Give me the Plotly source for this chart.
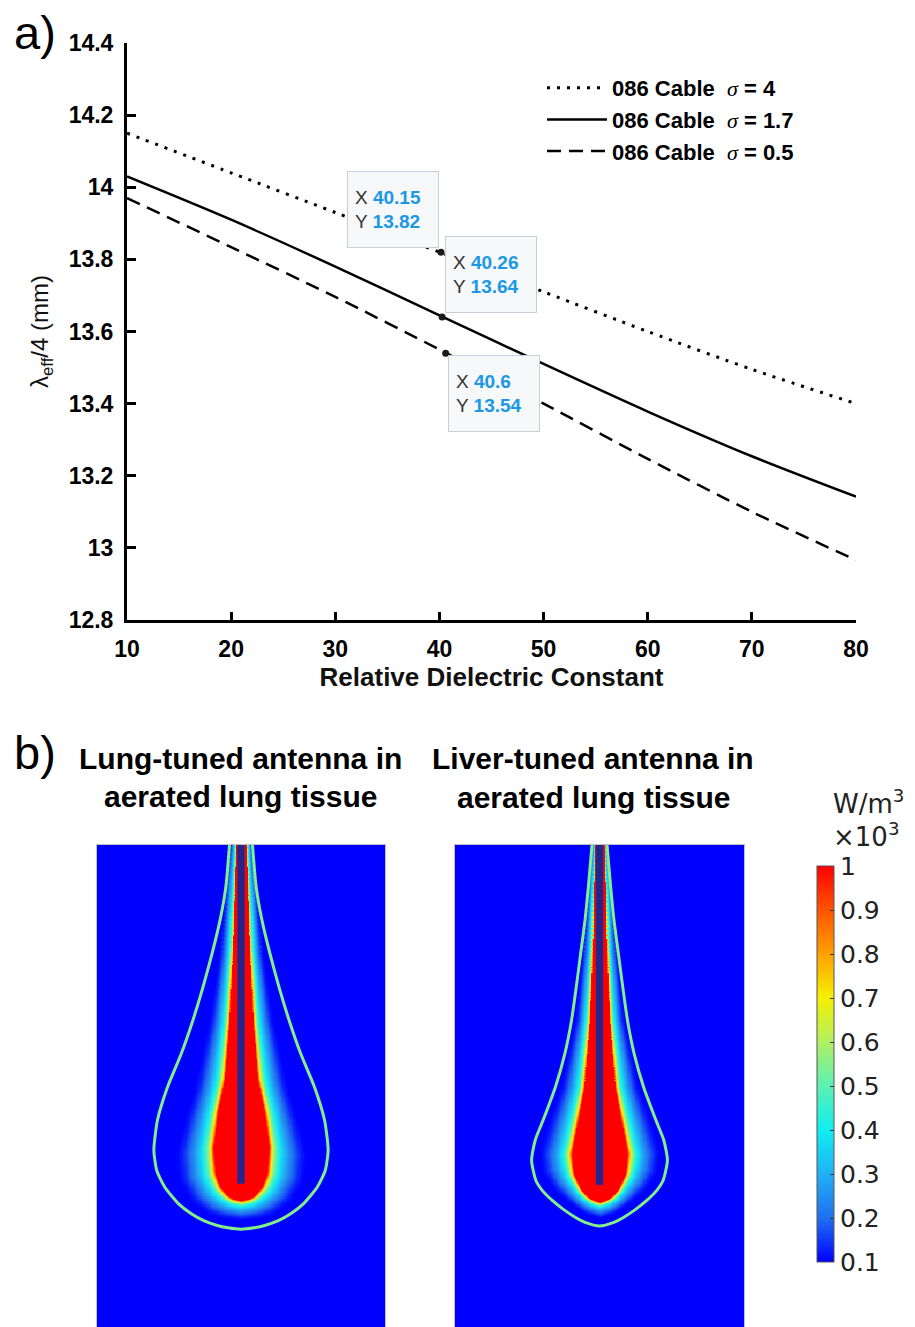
import numpy as np
import plotly.graph_objects as go

W, H = 915, 1327
SANS = "Liberation Sans, Arial, sans-serif"
CBFONT = "DejaVu Sans, Liberation Sans, sans-serif"

# ---------------- panel a) data ----------------
eps_r = [10, 20, 30, 40, 50, 60, 70, 80]
lam_sigma4 = [14.15, 14.04, 13.93, 13.82, 13.71, 13.60, 13.495, 13.40]
lam_sigma17 = [14.03, 13.91, 13.78, 13.645, 13.51, 13.378, 13.254, 13.142]
lam_sigma05 = [13.97, 13.834, 13.696, 13.55, 13.40, 13.247, 13.100, 12.966]
series_names = ["σ = 4", "σ = 1.7", "σ = 0.5"]
tip_x = [40.15, 40.26, 40.6]
tip_y = [13.82, 13.64, 13.54]
x_ticks = [10, 20, 30, 40, 50, 60, 70, 80]
y_ticks = [12.8, 13.0, 13.2, 13.4, 13.6, 13.8, 14.0, 14.2, 14.4]
y_ticktext = ["12.8", "13", "13.2", "13.4", "13.6", "13.8", "14", "14.2", "14.4"]

# ---------------- panel b) data (mm, read from the maps) ----------------
# depth below the top edge, half-width of each region
lung_contour_d = [0, 2.9, 5.2, 7.5, 9.9, 12.2, 14.5, 16.8, 19.1, 21.2, 22.6, 23.75, 24.9, 25.6, 26.1, 26.4, 26.58, 26.68]
lung_contour_h = [0.8, 1.05, 1.45, 2.0, 2.65, 3.35, 4.15, 5.1, 5.8, 6.05, 5.85, 5.3, 4.35, 3.45, 2.55, 1.7, 0.9, 0.0]
lung_red_d = [0, 7.5, 12.2, 16.3, 18.6, 21.0, 22.8, 23.75, 24.3, 24.55, 24.7]
lung_red_h = [0.35, 0.6, 0.83, 1.16, 1.64, 1.94, 1.8, 1.45, 0.98, 0.6, 0.0]
lung_glow_d = [0, 7.5, 12.2, 16.8, 19.1, 21.4, 23.3, 24.8, 25.6, 25.9, 26.05]
lung_glow_h = [0.8, 1.5, 2.2, 3.2, 3.9, 4.5, 4.3, 3.4, 2.3, 1.3, 0.0]

liver_contour_d = [0, 2.9, 5.2, 7.5, 9.8, 12.2, 14.5, 16.8, 19.1, 20.5, 21.9, 23.3, 24.0, 24.7, 25.3, 25.9, 26.2, 26.45]
liver_contour_h = [0.52, 0.77, 1.0, 1.3, 1.6, 1.94, 2.4, 3.05, 3.9, 4.45, 4.7, 4.4, 3.95, 3.25, 2.5, 1.6, 1.0, 0.0]
liver_red_d = [0, 7.5, 12.2, 16.8, 19.1, 21.4, 22.8, 23.9, 24.4, 24.65, 24.8]
liver_red_h = [0.35, 0.5, 0.7, 1.07, 1.5, 1.94, 1.8, 1.3, 0.85, 0.45, 0.0]
liver_glow_d = [0, 7.5, 12.2, 16.8, 19.1, 21.4, 22.8, 24.0, 25.0, 25.6, 25.9]
liver_glow_h = [0.55, 1.2, 1.7, 2.7, 3.5, 4.15, 3.95, 3.1, 1.9, 1.0, 0.0]

rod_half = 0.24
rod_tip = [23.5, 23.6]

# fall-off of the field from the red core (t=0) to the glow edge (t=1)
decay_t = [0, 0.05, 0.12, 0.2, 0.3, 0.45, 0.65, 0.85, 1.0]
decay_v = [1.0, 0.8, 0.62, 0.5, 0.4, 0.3, 0.2, 0.13, 0.1]

cb_vals = [0.1, 0.2, 0.3, 0.4, 0.5, 0.6, 0.7, 0.8, 0.9, 1.0]
cb_text = ["0.1", "0.2", "0.3", "0.4", "0.5", "0.6", "0.7", "0.8", "0.9", "1"]
cb_colors = ["#0000ff", "#2070f0", "#22b0f6", "#10eef0", "#5cf0b4", "#b0f064",
             "#f5f000", "#ffa000", "#ff5400", "#ff0000"]

map_width = 20.0
map_depth = 33.47
hx = np.arange(-10, 10.0001, 0.08)
hd = np.arange(0, 33.56, 0.08)
AX, DD = np.meshgrid(np.abs(hx), hd)


def curve_points(depths, hws, n=24):
    d = np.concatenate([[-1.0], depths])
    h = np.concatenate([[hws[0]], hws])
    pts = []
    for i in range(len(d) - 1):
        s = np.linspace(0, 1, n, endpoint=False)
        pts.append(np.column_stack([h[i] + (h[i + 1] - h[i]) * s, d[i] + (d[i + 1] - d[i]) * s]))
    pts.append(np.array([[h[-1], d[-1]]]))
    return np.vstack(pts)


def inside(depths, hws):
    hw = np.interp(DD, depths, hws)
    return (AX < hw) & (DD <= depths[-1])


def dist_to(pts):
    fx = AX.ravel()
    fd = DD.ravel()
    out = np.empty(fx.size)
    step = 3000
    for s in range(0, fx.size, step):
        px = fx[s:s + step, None]
        pd = fd[s:s + step, None]
        out[s:s + step] = np.sqrt(((px - pts[:, 0]) ** 2 + (pd - pts[:, 1]) ** 2).min(axis=1))
    return out.reshape(AX.shape)


def sar_field(red_d, red_h, glow_d, glow_h):
    in_red = inside(red_d, red_h)
    in_glow = inside(glow_d, glow_h)
    d_r = dist_to(curve_points(red_d, red_h))
    d_g = dist_to(curve_points(glow_d, glow_h))
    t = d_r / (d_r + d_g + 1e-9)
    v = np.interp(t, decay_t, decay_v)
    v = np.where(in_glow, v, 0.1)
    v = np.where(in_red, 1.0, v)
    return np.round(v, 3)


def contour_xy(depths, hws):
    xs = [-h for h in hws] + [h for h in hws[::-1]][1:]
    ys = [-d for d in depths] + [-d for d in depths[::-1]][1:]
    return xs, ys


z_lung = sar_field(lung_red_d, lung_red_h, lung_glow_d, lung_glow_h)
z_liver = sar_field(liver_red_d, liver_red_h, liver_glow_d, liver_glow_h)

fig = go.Figure()

# ---- panel a traces
styles = [dict(dash="3px,7px", width=3), dict(dash="solid", width=2.5), dict(dash="14px,8px", width=2.5)]
for ys, name, st in zip([lam_sigma4, lam_sigma17, lam_sigma05], series_names, styles):
    sym, rest = name.split(" ", 1)
    label = ("086 Cable&nbsp;&nbsp;<span style='font-family:Liberation Serif;font-style:italic;"
             "font-weight:normal'>" + sym + "</span> " + rest)
    fig.add_trace(go.Scatter(x=eps_r, y=ys, mode="lines", name=label,
                             line=dict(color="black", width=st["width"], dash=st["dash"],
                                       shape="spline", smoothing=0.8),
                             xaxis="x", yaxis="y"))
fig.add_trace(go.Scatter(x=tip_x, y=tip_y, mode="markers", showlegend=False,
                         marker=dict(color="#1a1a1a", size=7), xaxis="x", yaxis="y"))

# ---- panel b traces
for z, xa, ya in [(z_lung, "x2", "y2"), (z_liver, "x3", "y3")]:
    fig.add_trace(go.Heatmap(x=hx, y=-hd, z=z, coloraxis="coloraxis", xaxis=xa, yaxis=ya,
                             zsmooth="best", hoverinfo="skip"))
for (cd, ch), xa, ya in [((lung_contour_d, lung_contour_h), "x2", "y2"),
                         ((liver_contour_d, liver_contour_h), "x3", "y3")]:
    cx, cy = contour_xy(cd, ch)
    fig.add_trace(go.Scatter(x=cx, y=cy, mode="lines", showlegend=False, hoverinfo="skip",
                             line=dict(color="#84ee88", width=3, shape="spline", smoothing=0.6),
                             xaxis=xa, yaxis=ya))
for tip, xa, ya in [(rod_tip[0], "x2", "y2"), (rod_tip[1], "x3", "y3")]:
    fig.add_shape(type="rect", xref=xa, yref=ya, x0=-rod_half, x1=rod_half, y0=-tip, y1=0.5,
                  fillcolor="#24248a", line=dict(color="#30309a", width=0.5), layer="above")

# ---- datatip boxes
tip_shift = [dict(xanchor="right", yanchor="bottom", xshift=-2, yshift=4),
             dict(xanchor="left", yanchor="bottom", xshift=3, yshift=4),
             dict(xanchor="left", yanchor="top", xshift=2, yshift=-2)]
for tx, ty, sh in zip(tip_x, tip_y, tip_shift):
    txt = ("X <b><span style='color:#1a98e6'>%s</span></b><br>Y <b><span style='color:#1a98e6'>%s</span></b>"
           % (("%g" % tx), ("%.2f" % ty)))
    fig.add_annotation(x=tx, y=ty, xref="x", yref="y", text=txt, showarrow=False, align="left",
                       width=76, height=61, borderpad=7, bgcolor="#f7f8fa", bordercolor="#c9ced4",
                       borderwidth=1, font=dict(family=SANS, size=19, color="#333333"), **sh)


# ---- text annotations
def ptext(x, y, text, size, weight="normal", xanchor="center", family=SANS, color="black"):
    fig.add_annotation(x=x / W, y=1 - y / H, xref="paper", yref="paper", text=text, showarrow=False,
                       xanchor=xanchor, yanchor="middle",
                       font=dict(family=family, size=size, color=color, weight=weight))


ptext(35, 33, "a)", 47)
ptext(35, 752, "b)", 47)
ptext(240.5, 758, "Lung-tuned antenna in", 30, "bold")
ptext(240.5, 796, "aerated lung tissue", 30, "bold")
ptext(593, 758, "Liver-tuned antenna in", 30, "bold")
ptext(593, 797, "aerated lung tissue", 30, "bold")
ptext(831, 802, "W/m<sup>3</sup>", 26, xanchor="left", family=CBFONT, color="#222222")
ptext(831, 835, "×10<sup>3</sup>", 26, xanchor="left", family=CBFONT, color="#222222")

map_axis = dict(showticklabels=False, ticks="", showgrid=False, zeroline=False, showline=True,
                mirror=True, linecolor="#c0c0c0", linewidth=1, automargin=False)

fig.update_layout(
    width=W, height=H, margin=dict(l=0, r=0, t=0, b=0),
    paper_bgcolor="white", plot_bgcolor="white",
    xaxis=dict(domain=[127 / W, 856 / W], range=[10, 80], tickvals=x_ticks,
               ticktext=[str(v) for v in x_ticks], ticks="inside", ticklen=8, tickwidth=2.5,
               tickcolor="black", showline=True, linewidth=3, linecolor="black", showgrid=False,
               zeroline=False, anchor="y", automargin=False, ticklabelstandoff=6,
               tickfont=dict(family=SANS, size=23, color="black", weight="bold"),
               title=dict(text="Relative Dielectric Constant", standoff=8,
                          font=dict(family=SANS, size=26, color="#111111", weight="bold"))),
    yaxis=dict(domain=[1 - 620 / H, 1 - 43 / H], range=[12.8, 14.4], tickvals=y_ticks,
               ticktext=y_ticktext, ticks="inside", ticklen=9, tickwidth=2.5, tickcolor="black",
               showline=True, linewidth=3, linecolor="black", showgrid=False, zeroline=False,
               anchor="x", automargin=False, ticklabelstandoff=6,
               tickfont=dict(family=SANS, size=23, color="black", weight="bold"),
               title=dict(text="λ<sub>eff</sub>/4 (mm)", standoff=14,
                          font=dict(family=SANS, size=24, color="#111111"))),
    xaxis2=dict(domain=[97 / W, 385 / W], range=[-map_width / 2, map_width / 2], anchor="y2", **map_axis),
    yaxis2=dict(domain=[0, 1 - 845 / H], range=[-map_depth, 0], anchor="x2", **map_axis),
    xaxis3=dict(domain=[455 / W, 744 / W], range=[-map_width / 2, map_width / 2], anchor="y3", **map_axis),
    yaxis3=dict(domain=[0, 1 - 845 / H], range=[-map_depth, 0], anchor="x3", **map_axis),
    coloraxis=dict(cmin=0.1, cmax=1.0,
                   colorscale=[[(v - 0.1) / 0.9, c] for v, c in zip(cb_vals, cb_colors)],
                   colorbar=dict(x=817 / W, xanchor="left", xpad=0, y=1 - 1064 / H, yanchor="middle",
                                 ypad=0, len=396, lenmode="pixels", thickness=17, thicknessmode="pixels",
                                 outlinewidth=1, outlinecolor="#555555", tickvals=cb_vals, ticktext=cb_text,
                                 ticks="inside", ticklen=4, tickcolor="#333333",
                                 tickfont=dict(family=CBFONT, size=25, color="#222222"))),
    legend=dict(x=542 / W, y=1 - 67 / H, xanchor="left", yanchor="top", bgcolor="rgba(0,0,0,0)",
                itemwidth=60, tracegroupgap=0,
                font=dict(family=SANS, size=22, color="black", weight="bold")),
    showlegend=True,
)

fig.write_html("out.html", config={"displayModeBar": False},
               post_script="document.body.style.margin='0px';")
